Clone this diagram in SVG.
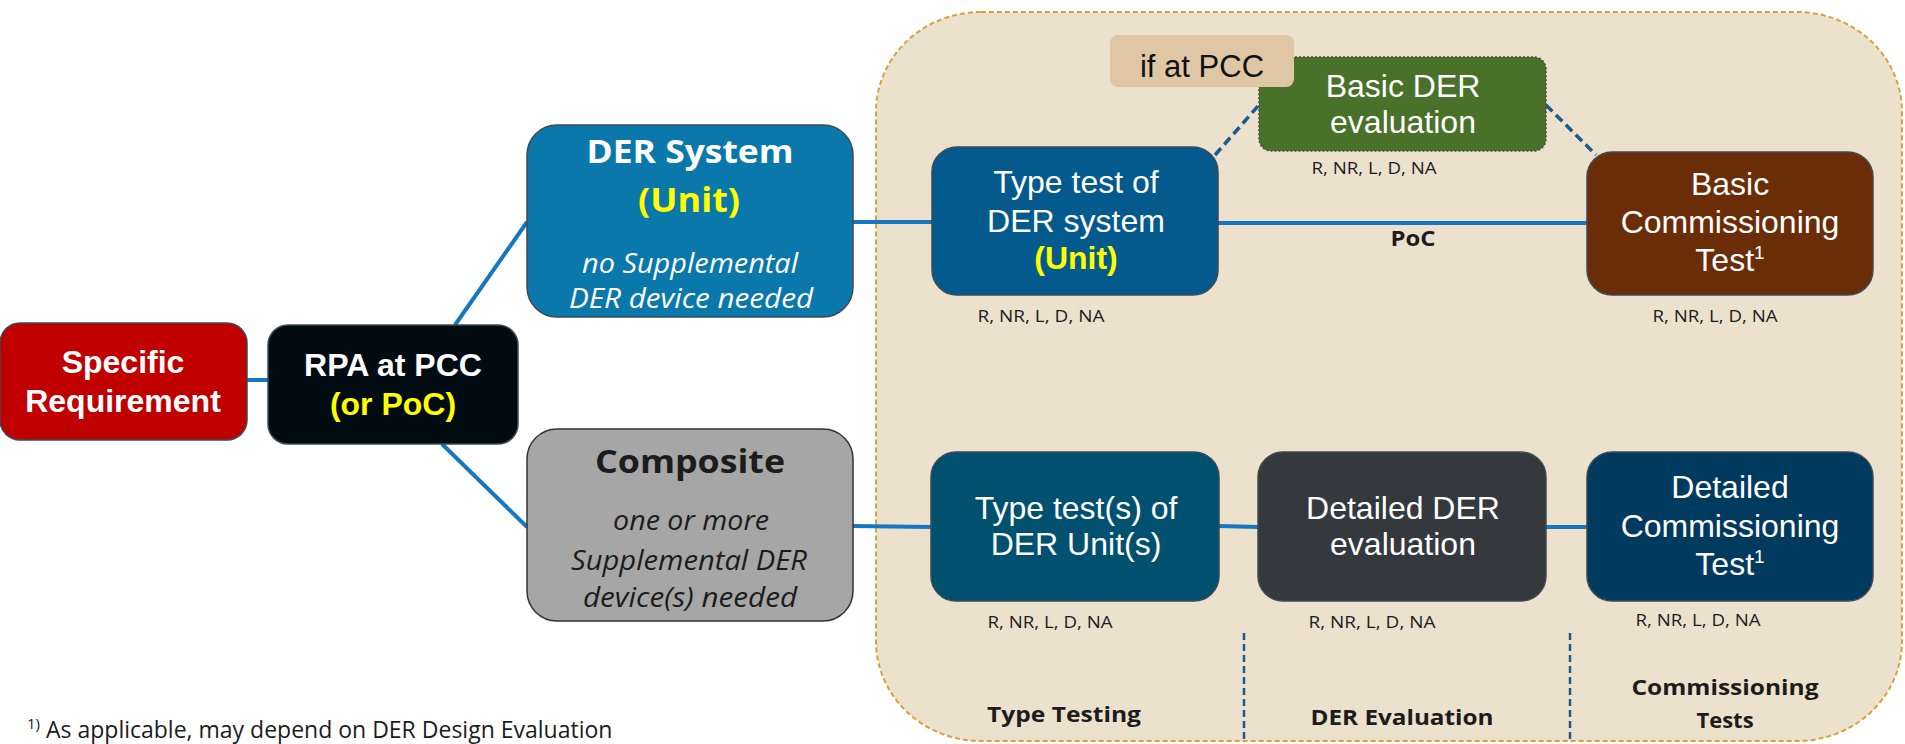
<svg xmlns="http://www.w3.org/2000/svg" width="1905" height="744" viewBox="0 0 1905 744">
  <style>
    .arial { font-family: "Liberation Sans", Arial, sans-serif; }
    .cal { font-family: "Open Sans", "Noto Sans", sans-serif; }
    .mid { text-anchor: middle; }
    .w { fill: #ffffff; }
    .y { fill: #ffff00; }
    .dk { fill: #1c1c1c; }
    .b { font-weight: bold; }
    .it { font-style: italic; }
    .box { stroke: #3d4a54; stroke-width: 1.5; }
    .link { stroke: #1576c2; stroke-width: 4; fill: none; }
    .dlink { stroke: #1d5b8c; stroke-width: 3.5; fill: none; stroke-dasharray: 9 5; }
    .sep { stroke: #1d5b8c; stroke-width: 2.5; fill: none; stroke-dasharray: 7 4; }
    .rate { font-size: 17px; }
  </style>

  <!-- assessment area -->
  <g id="assessment-area">
    <rect x="876" y="12" width="1026" height="729" rx="105" ry="100" fill="#ece1cd" stroke="#d6a23c" stroke-width="2" stroke-dasharray="5 3"/>
  </g>

  <!-- connectors -->
  <g id="connectors">
    <line class="link" x1="247" y1="380" x2="268" y2="380"/>
    <line class="link" x1="455" y1="325" x2="527" y2="222"/>
    <line class="link" x1="442" y1="444" x2="527" y2="527"/>
    <line class="link" x1="853" y1="222" x2="932" y2="222"/>
    <line class="link" x1="853" y1="526" x2="931" y2="527"/>
    <line class="link" x1="1218" y1="223" x2="1587" y2="223"/>
    <line class="link" x1="1219" y1="526" x2="1258" y2="527"/>
    <line class="link" x1="1546" y1="527" x2="1587" y2="527"/>
    <line class="dlink" x1="1215" y1="155" x2="1259" y2="105"/>
    <line class="dlink" x1="1546" y1="105" x2="1596" y2="155"/>
    <text class="cal b mid dk" x="1413" y="246" font-size="21" textLength="45" lengthAdjust="spacingAndGlyphs">PoC</text>
  </g>

  <!-- left chain -->
  <g id="specific-requirement">
    <rect class="box" x="0" y="323" width="247" height="117" rx="20" fill="#c00000"/>
    <text class="arial b mid w" font-size="32"><tspan x="123" y="373">Specific</tspan><tspan x="123" y="412">Requirement</tspan></text>
  </g>

  <g id="rpa-at-pcc">
    <rect class="box" x="268" y="325" width="250" height="119" rx="20" fill="#010c12"/>
    <text class="arial b mid" font-size="32"><tspan class="w" x="393" y="376">RPA at PCC</tspan><tspan class="y" x="393" y="415">(or PoC)</tspan></text>
  </g>

  <g id="der-system">
    <rect class="box" x="527" y="125" width="326" height="192" rx="30" fill="#0a78aa"/>
    <text class="cal b mid w" x="690" y="163" font-size="33" textLength="207" lengthAdjust="spacingAndGlyphs">DER System</text>
    <text class="cal b mid y" x="689" y="212" font-size="34" textLength="102" lengthAdjust="spacingAndGlyphs">(Unit)</text>
    <text class="cal it mid w" x="690" y="273" font-size="27" textLength="216" lengthAdjust="spacingAndGlyphs">no Supplemental</text>
    <text class="cal it mid w" x="691" y="308" font-size="27" textLength="244" lengthAdjust="spacingAndGlyphs">DER device needed</text>
  </g>

  <g id="composite">
    <rect x="527" y="429" width="326" height="192" rx="30" fill="#a6a6a6" stroke="#333333" stroke-width="1.5"/>
    <text class="cal b mid dk" x="690" y="473" font-size="33" textLength="190" lengthAdjust="spacingAndGlyphs">Composite</text>
    <text class="cal it mid dk" x="691" y="530" font-size="27" textLength="156" lengthAdjust="spacingAndGlyphs">one or more</text>
    <text class="cal it mid dk" x="689" y="570" font-size="27" textLength="236" lengthAdjust="spacingAndGlyphs">Supplemental DER</text>
    <text class="cal it mid dk" x="690" y="607" font-size="27" textLength="214" lengthAdjust="spacingAndGlyphs">device(s) needed</text>
  </g>

  <!-- upper path -->
  <g id="type-test-der-system">
    <rect class="box" x="932" y="147" width="286" height="148" rx="25" fill="#045a8d"/>
    <text class="arial mid w" font-size="32"><tspan x="1076" y="193">Type test of</tspan><tspan x="1076" y="232">DER system</tspan></text>
    <text class="arial b mid y" x="1076" y="269" font-size="32">(Unit)</text>
    <text class="cal mid dk rate" x="1041" y="322" textLength="127" lengthAdjust="spacingAndGlyphs">R, NR, L, D, NA</text>
  </g>

  <g id="basic-der-evaluation">
    <rect x="1259" y="57" width="287" height="94" rx="12" fill="#4a7129" stroke="#4a4a4a" stroke-width="1.5" stroke-dasharray="2 2"/>
    <text class="arial mid w" font-size="32"><tspan x="1403" y="97">Basic DER</tspan><tspan x="1403" y="133">evaluation</tspan></text>
    <text class="cal mid dk rate" x="1374" y="174" textLength="125" lengthAdjust="spacingAndGlyphs">R, NR, L, D, NA</text>
  </g>

  <g id="if-at-pcc">
    <rect x="1110" y="35" width="184" height="52" rx="8" fill="#dfc7a6"/>
    <text class="arial mid" x="1202" y="77" font-size="31" fill="#111111">if at PCC</text>
  </g>

  <g id="basic-commissioning-test">
    <rect class="box" x="1587" y="152" width="286" height="143" rx="25" fill="#6b2d07"/>
    <text class="arial mid w" font-size="32"><tspan x="1730" y="195">Basic</tspan><tspan x="1730" y="233">Commissioning</tspan><tspan x="1730" y="271">Test<tspan font-size="19" dy="-12">1</tspan></tspan></text>
    <text class="cal mid dk rate" x="1715" y="322" textLength="125" lengthAdjust="spacingAndGlyphs">R, NR, L, D, NA</text>
  </g>

  <!-- lower path -->
  <g id="type-tests-der-units">
    <rect class="box" x="931" y="452" width="288" height="149" rx="25" fill="#00506f"/>
    <text class="arial mid w" font-size="32"><tspan x="1076" y="519">Type test(s) of</tspan><tspan x="1076" y="555">DER Unit(s)</tspan></text>
    <text class="cal mid dk rate" x="1050" y="628" textLength="125" lengthAdjust="spacingAndGlyphs">R, NR, L, D, NA</text>
  </g>

  <g id="detailed-der-evaluation">
    <rect class="box" x="1258" y="452" width="288" height="149" rx="25" fill="#35383c"/>
    <text class="arial mid w" font-size="32"><tspan x="1403" y="519">Detailed DER</tspan><tspan x="1403" y="555">evaluation</tspan></text>
    <text class="cal mid dk rate" x="1372" y="628" textLength="127" lengthAdjust="spacingAndGlyphs">R, NR, L, D, NA</text>
  </g>

  <g id="detailed-commissioning-test">
    <rect class="box" x="1587" y="452" width="286" height="149" rx="25" fill="#003a5e"/>
    <text class="arial mid w" font-size="32"><tspan x="1730" y="498">Detailed</tspan><tspan x="1730" y="537">Commissioning</tspan><tspan x="1730" y="575">Test<tspan font-size="19" dy="-12">1</tspan></tspan></text>
    <text class="cal mid dk rate" x="1698" y="626" textLength="125" lengthAdjust="spacingAndGlyphs">R, NR, L, D, NA</text>
  </g>

  <!-- phase columns -->
  <g id="phases">
    <line class="sep" x1="1244" y1="633" x2="1244" y2="740"/>
    <line class="sep" x1="1570" y1="633" x2="1570" y2="740"/>
    <text class="cal b mid dk" x="1064" y="722" font-size="22" textLength="154" lengthAdjust="spacingAndGlyphs">Type Testing</text>
    <text class="cal b mid dk" x="1402" y="725" font-size="22" textLength="183" lengthAdjust="spacingAndGlyphs">DER Evaluation</text>
    <text class="cal b mid dk" x="1725" y="695" font-size="22" textLength="187" lengthAdjust="spacingAndGlyphs">Commissioning</text>
    <text class="cal b mid dk" x="1725" y="728" font-size="22">Tests</text>
  </g>

  <!-- footnote -->
  <g id="footnote">
    <text class="cal" x="27" y="738" font-size="23" fill="#1c1c1c"><tspan font-size="15" dy="-9">1)</tspan><tspan dy="9"> As applicable, may depend on DER Design Evaluation</tspan></text>
  </g>
</svg>
